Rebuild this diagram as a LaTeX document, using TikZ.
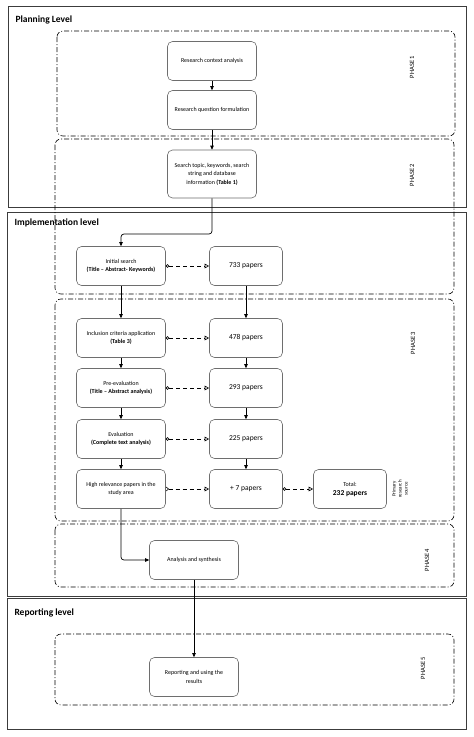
\documentclass[tikz,border=0pt]{standalone}
\usepackage{fontspec}
\setmainfont{Carlito}
\usetikzlibrary{arrows.meta}
\definecolor{nodeborder}{RGB}{110,110,110}
\definecolor{levelborder}{RGB}{60,60,60}
\begin{document}
\begin{tikzpicture}[x=1pt,y=-1pt,
  levelbox/.style={draw=levelborder,line width=1pt},
  phasebox/.style={draw=black,line width=0.6pt,dash pattern=on 5pt off 2pt on 1pt off 2pt,rounded corners=6pt},
  stepbox/.style={draw=nodeborder,line width=0.6pt,rounded corners=5pt,fill=white,minimum width=89pt,minimum height=39pt,align=center,font=\fontsize{6}{8.5}\selectfont,inner sep=1pt},
  countbox/.style={draw=nodeborder,line width=0.6pt,rounded corners=5pt,fill=white,minimum width=73pt,minimum height=39pt,align=center,font=\fontsize{7.5}{9}\selectfont,inner sep=1pt},
  levellabel/.style={anchor=west,font=\fontsize{9.5}{11}\selectfont\bfseries},
  phaselabel/.style={rotate=90,font=\fontsize{6.5}{8}\selectfont},
  flow/.style={draw=black,line width=0.7pt,-{Triangle[length=4pt,width=3.5pt]}},
  dashflow/.style={draw=black,line width=0.6pt,dash pattern=on 4pt off 3pt,{Circle[open,length=3.5pt,width=3.5pt]}-{Triangle[open,length=4.5pt,width=4.5pt]}},
  barbflow/.style={draw=black,line width=0.6pt,dash pattern=on 4pt off 3pt,{Straight Barb[reversed,length=2.5pt,width=4pt]}-{Triangle[open,length=4.5pt,width=4.5pt]}}
]
\useasboundingbox (0,0) rectangle (474,737);
\fill[white] (0,0) rectangle (474,737);

% level boxes
\draw[levelbox] (8,6) rectangle (466,207);
\draw[levelbox] (7,212) rectangle (466,596);
\draw[levelbox] (7,598) rectangle (466,729);
\node[levellabel] (lplan) at (12,20) {Planning Level};
\node[levellabel] (limpl) at (11,223) {Implementation level};
\node[levellabel] (lrep) at (11,613) {Reporting level};

% phase boxes
\draw[phasebox] (57,31) rectangle (455,136);
\draw[phasebox] (55,139) rectangle (454,294);
\draw[phasebox] (55,299) rectangle (454,521);
\draw[phasebox] (55,524) rectangle (454,587);
\draw[phasebox] (55,634) rectangle (454,705);
\node[phaselabel] (p1) at (412,67) {PHASE 1};
\node[phaselabel] (p2) at (412,175) {PHASE 2};
\node[phaselabel] (p3) at (413,343) {PHASE 3};
\node[phaselabel] (p4) at (427,560) {PHASE 4};
\node[phaselabel] (p5) at (423,668) {PHASE 5};

% nodes
\node[stepbox] (rca) at (212,61) {Research context analysis};
\node[stepbox] (rqf) at (212,110) {Research question formulation};
\node[stepbox,minimum height=48pt] (stk) at (212,174) {Search topic, keywords, search\\string and database\\information \textbf{(Table 1)}};
\node[stepbox] (init) at (121,266) {Initial search\\\textbf{(Title – Abstract- Keywords)}};
\node[stepbox] (incl) at (121,338) {Inclusion criteria application\\\textbf{(Table 3)}};
\node[stepbox] (pre) at (121,388) {Pre-evaluation\\\textbf{(Title – Abstract analysis)}};
\node[stepbox] (eval) at (121,439) {Evaluation\\\textbf{(Complete text analysis)}};
\node[stepbox] (high) at (121,489) {High relevance papers in the\\study area};
\node[countbox] (c733) at (246,266) {733 papers};
\node[countbox] (c478) at (246,338) {478 papers};
\node[countbox] (c293) at (246,388) {293 papers};
\node[countbox] (c225) at (246,439) {225 papers};
\node[countbox] (c7) at (246,489) {+ 7 papers};
\node[countbox] (tot) at (350,489) {{\fontsize{6}{8}\selectfont Total:}\\\textbf{232 papers}};
\node[rotate=90,align=center,font=\fontsize{5}{6}\selectfont] (prs) at (400,489) {Primary\\research\\source};
\node[stepbox] (ans) at (194,560) {Analysis and synthesis};
\node[stepbox] (rep) at (194,677) {Reporting and using the\\results};

% connectors
\draw[flow] (rca) -- (rqf);
\draw[flow] (rqf) -- (stk);
\draw[flow,rounded corners=3pt] (stk.south) -- (212,234) -- (121,234) -- (init.north);
\draw[flow] (init) -- (incl);
\draw[flow] (incl) -- (pre);
\draw[flow] (pre) -- (eval);
\draw[flow] (eval) -- (high);
\draw[flow] (c733) -- (c478);
\draw[flow] (c478) -- (c293);
\draw[flow] (c293) -- (c225);
\draw[flow] (c225) -- (c7);
\draw[flow,rounded corners=3pt] (high.south) -- (121,560) -- (ans.west);
\draw[flow] (ans) -- (rep);

\draw[dashflow] (init) -- (c733);
\draw[dashflow] (incl) -- (c478);
\draw[dashflow] (pre) -- (c293);
\draw[dashflow] (eval) -- (c225);
\draw[barbflow] (high) -- (c7);
\draw[dashflow] (c7) -- (tot);
\end{tikzpicture}
\end{document}
